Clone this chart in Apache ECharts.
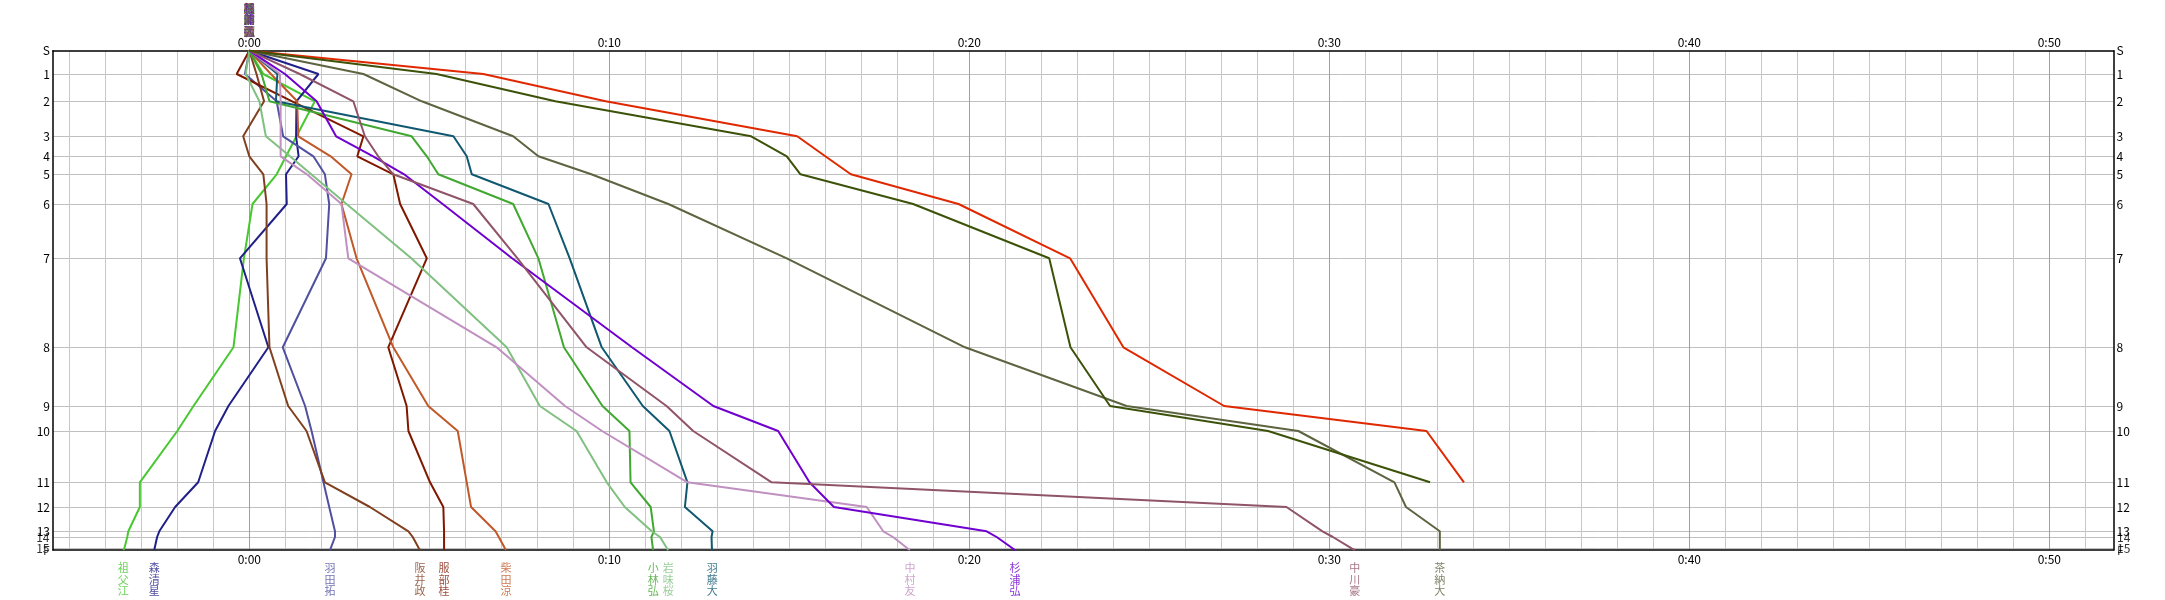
<!DOCTYPE html>
<html><head><meta charset="utf-8">
<script src="https://cdn.jsdelivr.net/npm/echarts@6/dist/echarts.min.js"></script>
<style>html,body{margin:0;padding:0;background:#fff}#c{width:2165px;height:600px}</style>
</head><body><div id="c"></div>
<script>
// Control points (top to bottom) and their cumulative course position
const controls = ['S','1','2','3','4','5','6','7','8','9','10','11','12','13','14','15','F'];
const controlPos = [0, 23.3, 50.6, 85.6, 105.6, 123.6, 153.3, 207.6, 296.6, 355.3, 380.3, 431.6, 456.3, 480.6, 486.3, 497.6, 499.3];
// Time axis tick labels (minutes)
const timeLabels = [0, 10, 20, 30, 40, 50];

// Split times relative to reference (minutes), one value per control S..F
const sobueTimes    = [0, 0.39, 1.82, 1.31, 1.02, 0.76, 0.09, -0.15, -0.44, -1.55, -2.0, -3.04, -3.04, -3.36, -3.39, -3.47, -3.5];
const moriTimes     = [0, 1.92, 1.31, 1.30, 1.37, 1.02, 1.04, -0.26, 0.53, -0.58, -0.95, -1.42, -2.06, -2.5, -2.56, -2.63, -2.64];
const hadaTimes     = [0, -0.12, 0.76, 0.94, 1.78, 2.1, 2.22, 2.13, 0.93, 1.55, 1.73, 2.06, 2.22, 2.38, 2.38, 2.26, 2.24];
const sakaiTimes    = [0, 0.2, 0.41, -0.17, 0.0, 0.39, 0.48, 0.48, 0.56, 1.08, 1.59, 2.1, 3.35, 4.42, 4.54, 4.71, 4.74];
const hattoriTimes  = [0, -0.35, 1.19, 3.17, 3.0, 4.0, 4.19, 4.93, 3.86, 4.37, 4.42, 5.02, 5.39, 5.41, 5.41, 5.41, 5.41];
const shibataTimes  = [0, 0.6, 1.33, 1.36, 2.26, 2.84, 2.56, 2.98, 4.0, 4.97, 5.79, 6.04, 6.16, 6.84, 6.93, 7.1, 7.13];
const kobayashiTimes= [0, 0.34, 0.56, 4.51, 4.93, 5.25, 7.33, 8.03, 8.74, 9.81, 10.56, 10.59, 11.15, 11.24, 11.17, 11.21, 11.22];
const iwamiTimes    = [0, -0.1, 0.28, 0.46, 1.13, 1.72, 2.7, 4.5, 7.15, 8.07, 9.09, 9.93, 10.43, 11.18, 11.41, 11.6, 11.64];
const hatoTimes     = [0, 0.78, 0.74, 5.67, 6.04, 6.18, 8.31, 8.9, 9.79, 10.93, 11.67, 12.17, 12.1, 12.87, 12.84, 12.85, 12.86];
const nakamuraTimes = [0, 0.85, 0.87, 0.87, 0.87, 1.6, 2.56, 2.75, 6.87, 8.77, 9.8, 12.17, 17.15, 17.61, 17.88, 18.28, 18.35];
const sugiuraTimes  = [0, 0.99, 1.87, 2.41, 3.44, 4.3, 5.37, 7.3, 10.63, 12.89, 14.69, 15.56, 16.24, 20.48, 20.76, 21.2, 21.27];
const nakagawaTimes = [0, 1.4, 2.89, 3.21, 3.58, 4.0, 6.22, 7.45, 9.37, 11.59, 12.33, 14.51, 28.81, 29.81, 30.1, 30.62, 30.71];
const chanoTimes    = [0, 3.17, 4.79, 7.33, 8.03, 9.5, 11.64, 14.93, 19.88, 24.37, 29.14, 31.81, 32.13, 33.07, 33.07, 33.07, 33.07];
// Two runners who stopped after control 11 (no finish, no name shown)
const dnfRedTimes   = [0, 6.5, 9.9, 15.22, 16.0, 16.71, 19.7, 22.8, 24.28, 27.08, 32.7, 33.74];
const dnfGreenTimes = [0, 5.2, 8.5, 13.94, 14.93, 15.31, 18.44, 22.22, 22.81, 23.91, 28.3, 32.8];

const runnerNames = ['祖父江','森清星','羽田拓','阪井政','服部桂','柴田涼','小林弘','岩味桜','羽藤大','中村友','杉浦弘','中川豪','茶納大','',''];
const runnerTimes = [sobueTimes, moriTimes, hadaTimes, sakaiTimes, hattoriTimes, shibataTimes, kobayashiTimes, iwamiTimes, hatoTimes, nakamuraTimes, sugiuraTimes, nakagawaTimes, chanoTimes, dnfRedTimes, dnfGreenTimes];
const runnerColors = ['#48c830','#202088','#5050a0','#804020','#801800','#c05828','#40a830','#80c080','#105870','#c090c0','#7000d0','#905468','#5c6440','#e02800','#3c5208'];

const FONT = "'Noto Sans CJK JP', sans-serif";
const xMin = (53 - 249.3) / 36, xMax = (2113.5 - 249.3) / 36;
const minuteLines = [];
for (let m = -5; m <= 51; m++) minuteLines.push(m);
const innerControls = controlPos.slice(1, controlPos.length - 1);
// crowded bottom controls (14, 15, F) are labelled through data points so that none is hidden
const nCrowded = 3;
const axisCtrlValues = controlPos.slice(0, controlPos.length - nCrowded);

const fmtTime = v => '0:' + String(Math.round(v)).padStart(2, '0');
const fmtCtrl = v => { const i = controlPos.findIndex(p => Math.abs(p - v) < 1e-6); return i >= 0 ? controls[i] : ''; };

const series = [];
runnerTimes.forEach((t, i) => {
  series.push({
    type: 'line', xAxisIndex: 0, yAxisIndex: 0,
    data: t.map((v, j) => [v, controlPos[j]]),
    symbol: 'none', showSymbol: false, clip: false, animation: false,
    lineStyle: { color: runnerColors[i], width: 2 },
    z: 3
  });
  if (runnerNames[i]) {
    const last = t.length - 1;
    const lbl = { show: true, color: runnerColors[i], fontFamily: FONT, fontSize: 11, lineHeight: 11.5,
      formatter: () => runnerNames[i].split('').join('\n') };
    series.push({
      type: 'scatter', xAxisIndex: 0, yAxisIndex: 0, clip: false, animation: false, silent: true,
      symbol: 'rect', symbolSize: 1, itemStyle: { color: 'rgba(0,0,0,0)' }, z: 4,
      data: [
        { value: [t[0], controlPos[0]], label: Object.assign({}, lbl, { position: 'top', distance: 13 }) },
        { value: [t[last], controlPos[last]], label: Object.assign({}, lbl, { position: 'bottom', distance: 12 }) }
      ]
    });
  }
});
// side labels for the crowded last controls
const crowdData = [];
for (let k = controlPos.length - nCrowded; k < controlPos.length; k++) {
  const txt = controls[k];
  crowdData.push({ value: [xMin, controlPos[k]], label: { position: 'left', formatter: () => txt } });
  crowdData.push({ value: [xMax, controlPos[k]], label: { position: 'right', formatter: () => txt } });
}
series.push({
  type: 'scatter', xAxisIndex: 0, yAxisIndex: 0, clip: false, animation: false, silent: true,
  symbol: 'rect', symbolSize: 1, itemStyle: { color: 'rgba(0,0,0,0)' }, z: 4,
  label: { show: true, color: '#000', fontFamily: FONT, fontSize: 12, distance: 3 },
  data: crowdData
});

const axisText = { color: '#000', fontFamily: FONT, fontSize: 12, showMinLabel: true, showMaxLabel: true, hideOverlap: false };
const option = {
  backgroundColor: '#fff',
  animation: false,
  grid: { left: 53, top: 50.7, width: 2060.5, height: 499.3, containLabel: false, outerBoundsMode: 'none' },
  xAxis: [
    { type: 'value', position: 'bottom', min: xMin, max: xMax,
      axisLine: { show: true, onZero: false, lineStyle: { color: '#000', width: 1.5 } },
      axisTick: { show: false, customValues: minuteLines },
      splitLine: { show: true, lineStyle: { color: '#c8c8c8', width: 1 } },
      axisLabel: Object.assign({ customValues: timeLabels, formatter: fmtTime, margin: 3 }, axisText) },
    { type: 'value', position: 'top', min: xMin, max: xMax,
      axisLine: { show: true, onZero: false, lineStyle: { color: '#000', width: 1.5 } },
      axisTick: { show: false, customValues: timeLabels },
      splitLine: { show: true, lineStyle: { color: '#a0a0a0', width: 1 } },
      axisLabel: Object.assign({ customValues: timeLabels, formatter: fmtTime, margin: 2 }, axisText) }
  ],
  yAxis: [
    { type: 'value', position: 'left', inverse: true, min: 0, max: controlPos[controlPos.length - 1],
      axisLine: { show: true, onZero: false, lineStyle: { color: '#000', width: 1.5 } },
      axisTick: { show: false, customValues: innerControls },
      splitLine: { show: true, lineStyle: { color: '#c0c0c0', width: 1 } },
      axisLabel: Object.assign({ customValues: axisCtrlValues, formatter: fmtCtrl, margin: 3, interval: 0 }, axisText) },
    { type: 'value', position: 'right', inverse: true, min: 0, max: controlPos[controlPos.length - 1],
      axisLine: { show: true, onZero: false, lineStyle: { color: '#000', width: 1.5 } },
      axisTick: { show: false, customValues: innerControls },
      splitLine: { show: false },
      axisLabel: Object.assign({ customValues: axisCtrlValues, formatter: fmtCtrl, margin: 3, interval: 0 }, axisText) }
  ],
  series: series
};
const chart = echarts.init(document.getElementById('c'), null, { renderer: 'canvas' });
chart.setOption(option);
</script></body></html>
